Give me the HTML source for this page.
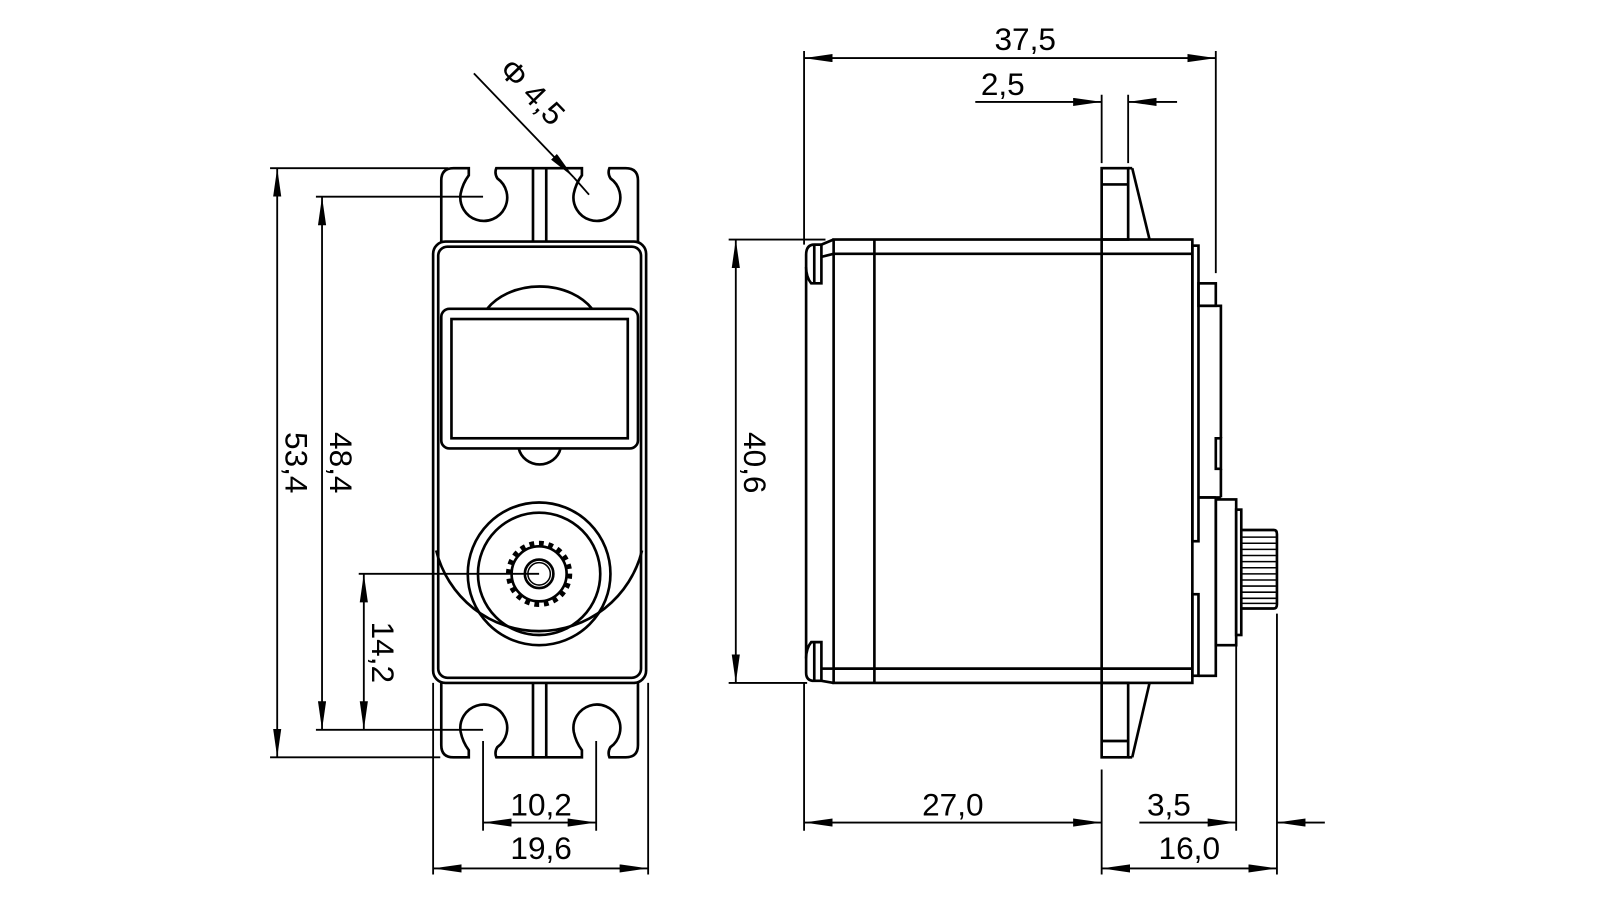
<!DOCTYPE html>
<html><head><meta charset="utf-8"><style>
html,body{margin:0;padding:0;background:#fff;}
svg{display:block;}
text{font-family:"Liberation Sans",sans-serif;font-size:31px;fill:#000;}
</style></head><body>
<svg width="1600" height="900" viewBox="0 0 1570 883" preserveAspectRatio="none" xmlns="http://www.w3.org/2000/svg">
<defs>
<marker id="a" markerUnits="userSpaceOnUse" markerWidth="30" markerHeight="10" refX="28" refY="4" orient="auto-start-reverse">
<path d="M0,0 L28,4 L0,8 z" fill="#000"/></marker>
</defs>
<g fill="none" stroke="#000" stroke-width="2.6">
<path d="M433,237 V177 Q433,165 445,165 H460 V172 Q454,180 452,190 A23,23 0 1 0 488,175 Q485,170 487,165 H571 V172 Q565,180 563,190 A23,23 0 1 0 599,175 Q596,170 598,165 H614 Q626,165 626,177 V237"/>
<line x1="523" y1="165" x2="523" y2="237"/><line x1="536" y1="165" x2="536" y2="237"/>
<path d="M433,670 V731 Q433,743 445,743 H460 V736 Q454,728 452,718 A23,23 0 1 1 488,733 Q485,738 487,743 H571 V736 Q565,728 563,718 A23,23 0 1 1 599,733 Q596,738 598,743 H614 Q626,743 626,731 V670"/>
<line x1="523" y1="670" x2="523" y2="743"/><line x1="536" y1="670" x2="536" y2="743"/>
<rect x="425" y="237" width="209" height="433" rx="12"/>
<rect x="430" y="242" width="199" height="423" rx="9"/>
<path d="M428,540 A104,104 0 0 0 630,540"/>
<path d="M478,303 A60,45 0 0 1 581,303"/>
<rect x="433" y="303" width="193" height="137" rx="8"/>
<rect x="443" y="313" width="173" height="117"/>
<path d="M509,440 A21,20 0 0 0 550,440"/>
<circle cx="529" cy="563" r="70"/>
<circle cx="529" cy="563" r="60"/>
<circle cx="529" cy="563" r="30" stroke-width="5" stroke-dasharray="4.7 4.7"/>
<circle cx="529" cy="563" r="27"/>
<circle cx="529" cy="563" r="14"/>
<circle cx="529" cy="563" r="11" stroke-width="1.5"/>
</g>
<g fill="none" stroke="#000" stroke-width="1.8">
<line x1="265" y1="165" x2="440" y2="165"/>
<line x1="265" y1="743" x2="432" y2="743"/>
<line x1="272" y1="165" x2="272" y2="743" marker-start="url(#a)" marker-end="url(#a)"/>
<line x1="310" y1="193" x2="474" y2="193"/>
<line x1="310" y1="716" x2="474" y2="716"/>
<line x1="316" y1="193" x2="316" y2="716" marker-start="url(#a)" marker-end="url(#a)"/>
<line x1="352" y1="563" x2="529" y2="563"/>
<line x1="357" y1="563" x2="357" y2="716" marker-start="url(#a)" marker-end="url(#a)"/>
<line x1="474" y1="727" x2="474" y2="815"/>
<line x1="585" y1="727" x2="585" y2="815"/>
<line x1="474" y1="807" x2="585" y2="807" marker-start="url(#a)" marker-end="url(#a)"/>
<line x1="425" y1="670" x2="425" y2="858"/>
<line x1="636" y1="670" x2="636" y2="858"/>
<line x1="425" y1="852" x2="636" y2="852" marker-start="url(#a)" marker-end="url(#a)"/>
<line x1="465" y1="72" x2="563" y2="174" marker-end="url(#a)"/>
<line x1="563" y1="174" x2="578" y2="191"/>
</g>
<g fill="none" stroke="#000" stroke-width="2.6">
<path d="M818,235 L806,240 H799 Q791,240 791,250 V660 Q791,668 799,668 H806 L818,670"/>
<path d="M806,240 V278 H796 Q791,272 791,262"/>
<path d="M806,668 V630 H796 Q791,636 791,646"/>
<path d="M806,252 L818,249"/><path d="M806,656 L818,656"/>
<line x1="799" y1="240" x2="799" y2="278"/><line x1="799" y1="630" x2="799" y2="668"/>
<rect x="818" y="235" width="352" height="435"/>
<line x1="818" y1="249" x2="1170" y2="249"/>
<line x1="818" y1="656" x2="1170" y2="656"/>
<line x1="858" y1="235" x2="858" y2="670"/>
<line x1="1081" y1="235" x2="1081" y2="670"/>
<rect x="1081" y="165" width="26" height="70"/>
<line x1="1081" y1="181" x2="1107" y2="181"/>
<line x1="1111" y1="165" x2="1128" y2="235"/>
<line x1="1107" y1="165" x2="1111" y2="165"/>
<rect x="1081" y="670" width="26" height="73"/>
<line x1="1081" y1="727" x2="1107" y2="727"/>
<line x1="1111" y1="743" x2="1128" y2="670"/>
<line x1="1107" y1="743" x2="1111" y2="743"/>
<rect x="1170" y="241" width="6" height="290"/>
<rect x="1170" y="583" width="6" height="80"/>
<path d="M1176,663 H1193 V490"/>
<line x1="1176" y1="488" x2="1193" y2="488"/>
<rect x="1176" y="278" width="17" height="22"/>
<path d="M1176,300 H1198 V430"/>
<path d="M1193,430 V460 H1198 V430 Z"/>
<line x1="1198" y1="460" x2="1198" y2="488"/>
<line x1="1198" y1="488" x2="1176" y2="488"/>
<rect x="1193" y="490" width="20" height="143"/>
<rect x="1213" y="500" width="5" height="123"/>
<path d="M1218,520 H1250 Q1253,520 1253,524 V593 Q1253,597 1250,597 H1218"/>
</g>
<g stroke="#000" stroke-width="1.5">
<line x1="1218" y1="527" x2="1252" y2="527"/><line x1="1218" y1="533" x2="1252" y2="533"/>
<line x1="1218" y1="539" x2="1252" y2="539"/><line x1="1218" y1="545" x2="1252" y2="545"/>
<line x1="1218" y1="551" x2="1252" y2="551"/><line x1="1218" y1="557" x2="1252" y2="557"/>
<line x1="1218" y1="563" x2="1252" y2="563"/><line x1="1218" y1="569" x2="1252" y2="569"/>
<line x1="1218" y1="575" x2="1252" y2="575"/><line x1="1218" y1="581" x2="1252" y2="581"/>
<line x1="1218" y1="587" x2="1252" y2="587"/><line x1="1218" y1="592" x2="1252" y2="592"/>
</g>
<g fill="none" stroke="#000" stroke-width="1.8">
<line x1="789" y1="50" x2="789" y2="240"/>
<line x1="1193" y1="50" x2="1193" y2="268"/>
<line x1="789" y1="57" x2="1193" y2="57" marker-start="url(#a)" marker-end="url(#a)"/>
<line x1="1081" y1="93" x2="1081" y2="160"/>
<line x1="1107" y1="93" x2="1107" y2="160"/>
<line x1="957" y1="100" x2="1081" y2="100" marker-end="url(#a)"/>
<line x1="1155" y1="100" x2="1107" y2="100" marker-end="url(#a)"/>
<line x1="715" y1="235" x2="810" y2="235"/>
<line x1="715" y1="670" x2="792" y2="670"/>
<line x1="722" y1="235" x2="722" y2="670" marker-start="url(#a)" marker-end="url(#a)"/>
<line x1="789" y1="670" x2="789" y2="815"/>
<line x1="1081" y1="755" x2="1081" y2="858"/>
<line x1="789" y1="807" x2="1081" y2="807" marker-start="url(#a)" marker-end="url(#a)"/>
<line x1="1213" y1="633" x2="1213" y2="815"/>
<line x1="1253" y1="602" x2="1253" y2="858"/>
<line x1="1118" y1="807" x2="1213" y2="807" marker-end="url(#a)"/>
<line x1="1300" y1="807" x2="1253" y2="807" marker-end="url(#a)"/>
<line x1="1081" y1="852" x2="1253" y2="852" marker-start="url(#a)" marker-end="url(#a)"/>
</g>
<text x="1006" y="49" text-anchor="middle">37,5</text>
<text x="984" y="93" text-anchor="middle">2,5</text>
<text x="935" y="800" text-anchor="middle">27,0</text>
<text x="1147" y="800" text-anchor="middle">3,5</text>
<text x="1167" y="843" text-anchor="middle">16,0</text>
<text x="531" y="800" text-anchor="middle">10,2</text>
<text x="531" y="843" text-anchor="middle">19,6</text>
<text transform="translate(280,454) rotate(90)" text-anchor="middle">53,4</text>
<text transform="translate(324,454) rotate(90)" text-anchor="middle">48,4</text>
<text transform="translate(365,640) rotate(90)" text-anchor="middle">14,2</text>
<text transform="translate(730,454) rotate(90)" text-anchor="middle">40,6</text>
<text transform="translate(488,70) rotate(46)">Φ 4,5</text>
</svg>
</body></html>
